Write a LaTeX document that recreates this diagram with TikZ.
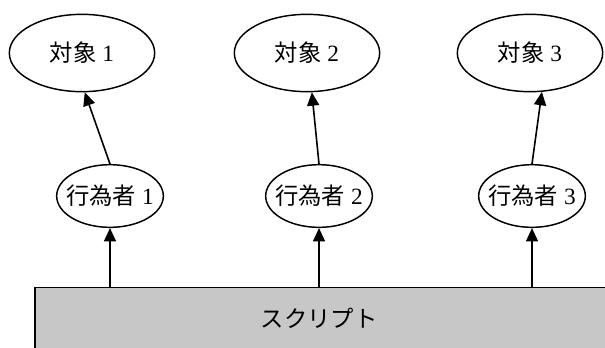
\documentclass[tikz,border=0pt]{standalone}
\usepackage{fontspec}
\setmainfont{Liberation Serif}
\newfontfamily\jp{Noto Sans CJK JP}
\usetikzlibrary{shapes.geometric,arrows.meta}
\begin{document}
\begin{tikzpicture}[x=0.75pt,y=-0.75pt,
  lbl/.style={font=\fontsize{17.5}{20}\selectfont},
  obj/.style={draw,ellipse,line width=1.1pt,inner sep=0pt,minimum width=109pt,minimum height=58pt,lbl},
  actor/.style={draw,ellipse,line width=1.1pt,inner xsep=-5.5pt,inner ysep=0pt,minimum width=80pt,minimum height=47pt,lbl},
  box/.style={draw,rectangle,line width=1.1pt,fill=black!22,inner sep=0pt,minimum width=431pt,minimum height=49pt},
  arr/.style={line width=1.2pt,-{Triangle[length=10pt,width=9pt]}}]
\useasboundingbox (0,0) rectangle (605,347);
\node[obj] (o1) at (82,53) {{\jp 対象}\ 1};
\node[obj] (o2) at (307,53) {{\jp 対象}\ 2};
\node[obj] (o3) at (530,53) {{\jp 対象}\ 3};
\node[actor] (a1) at (110,196) {{\jp 行為者}\ 1};
\node[actor] (a2) at (319,196) {{\jp 行為者}\ 2};
\node[actor] (a3) at (532,196) {{\jp 行為者}\ 3};
\node[box] (s) at (322.5,320) {};
\node[lbl] (st) at (319,318) {\jp スクリプト};
\draw[arr] (a1.north) -- (o1.-86);
\draw[arr] (a2.north) -- (o2.-83);
\draw[arr] (a3.north) -- (o3.-73);
\draw[arr] (s.north -| a1) -- (a1.south);
\draw[arr] (s.north -| a2) -- (a2.south);
\draw[arr] (s.north -| a3) -- (a3.south);
\end{tikzpicture}
\end{document}
